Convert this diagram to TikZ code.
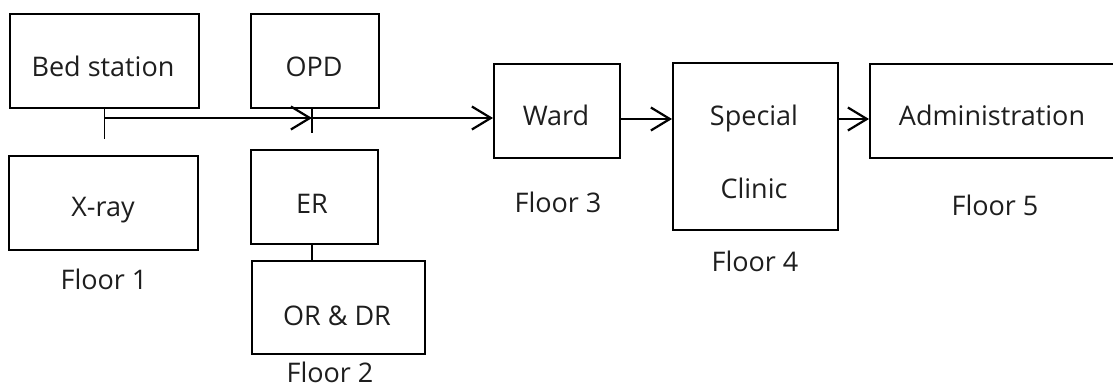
\documentclass[tikz,border=0pt]{standalone}
\usepackage{fontspec}
\setmainfont{Open Sans}
\usetikzlibrary{arrows.meta}
\definecolor{ink}{HTML}{1E1E1E}
\tikzset{
  room/.style={draw=black, line width=2.2pt, inner sep=0pt, anchor=north west},
  tag/.style={anchor=base, inner sep=0pt, text=ink, font=\fontsize{27}{32}\selectfont},
  flow/.style={line width=2.2pt, -{Straight Barb[length=19pt,width=23pt,line width=2.2pt]}},
  link/.style={line width=1.5pt}
}
\begin{document}
\begin{tikzpicture}[x=1pt,y=-1pt]
\clip (0,0) rectangle (1113,387);
\fill[white] (0,0) rectangle (1113,387);

% Floor 1
\node[room, minimum width=189pt, minimum height=94pt] (bed) at (9,13) {};
\node[room, minimum width=189pt, minimum height=94pt] (xray) at (8,155) {};
\node[tag] (tbed) at (103,77) {Bed station};
\node[tag] (txray) at (103,217) {X-ray};
\node[tag] (f1) at (104,290) {Floor 1};

% Floor 2
\node[room, minimum width=128pt, minimum height=94pt] (opd) at (250,13) {};
\node[room, minimum width=127pt, minimum height=94pt] (er) at (250,149) {};
\node[room, minimum width=173pt, minimum height=93pt] (ordr) at (251,260) {};
\node[tag] (topd) at (314,77) {OPD};
\node[tag] (ter) at (312,214) {ER};
\node[tag] (tordr) at (337,325) {OR \& DR};
\node[tag] (f2) at (330,382) {Floor 2};

% Floor 3
\node[room, minimum width=126pt, minimum height=94pt] (ward) at (493,63) {};
\node[tag] (tward) at (556,126) {Ward};
\node[tag] (f3) at (558,213) {Floor 3};

% Floor 4
\node[room, minimum width=165pt, minimum height=167pt] (clinic) at (672,62) {};
\node[tag] (tspec) at (754,126) {Special};
\node[tag] (tclin) at (754,199) {Clinic};
\node[tag] (f4) at (755,272) {Floor 4};

% Floor 5
\node[room, minimum width=260pt, minimum height=94pt] (admin) at (869,63) {};
\node[tag] (tadmin) at (992,126) {Administration};
\node[tag] (f5) at (995,216) {Floor 5};

% junction points on the corridor line
\coordinate (bedjoin) at (bed.south |- 0,118);
\coordinate (bedend) at (bed.south |- 0,139);
\coordinate (opdjoin) at (312,118);
\coordinate (opdend) at (312,133);

\draw[link] (bed.south) -- (bedend);
\draw[link] (opdjoin |- opd.south) -- (opdend);
\draw[link] (opdjoin |- er.south) -- (opdjoin |- ordr.north);

\draw[flow] (bedjoin) -- (opdjoin);
\draw[flow] (opdjoin) -- (opdjoin -| ward.west);
\draw[flow] (ward.east |- 0,119) -- (clinic.west |- 0,119);
\draw[flow] (clinic.east |- 0,119) -- (admin.west |- 0,119);
\end{tikzpicture}
\end{document}
